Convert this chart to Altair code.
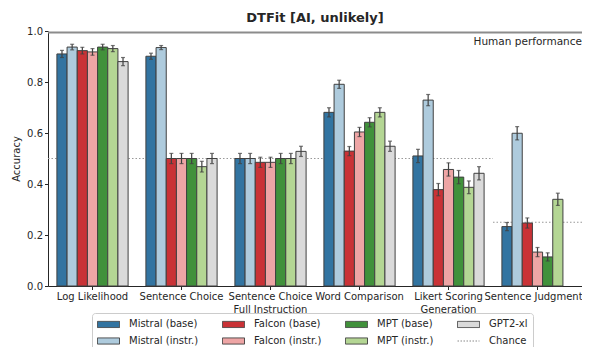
import altair as alt
import pandas as pd

categories = ["Log Likelihood", "Sentence Choice", "Sentence Choice\nFull Instruction",
              "Word Comparison", "Likert Scoring\nGeneration", "Sentence Judgment"]
models = ["Mistral (base)", "Mistral (instr.)", "Falcon (base)", "Falcon (instr.)",
          "MPT (base)", "MPT (instr.)", "GPT2-xl"]
colors = ["#3274a1", "#aecbdd", "#c93236", "#eea5a5", "#41913b", "#b4d694", "#dadada"]

acc = {
    "Mistral (base)":   [0.910, 0.901, 0.500, 0.681, 0.510, 0.233],
    "Mistral (instr.)": [0.937, 0.935, 0.500, 0.791, 0.729, 0.599],
    "Falcon (base)":    [0.923, 0.500, 0.485, 0.529, 0.378, 0.247],
    "Falcon (instr.)":  [0.918, 0.500, 0.485, 0.604, 0.457, 0.133],
    "MPT (base)":       [0.937, 0.500, 0.500, 0.642, 0.427, 0.114],
    "MPT (instr.)":     [0.931, 0.468, 0.500, 0.681, 0.387, 0.340],
    "GPT2-xl":          [0.880, 0.500, 0.528, 0.548, 0.442, None],
}
err = {
    "Mistral (base)":   [0.014, 0.012, 0.020, 0.018, 0.026, 0.016],
    "Mistral (instr.)": [0.011, 0.008, 0.020, 0.016, 0.022, 0.026],
    "Falcon (base)":    [0.013, 0.020, 0.020, 0.018, 0.024, 0.020],
    "Falcon (instr.)":  [0.013, 0.020, 0.020, 0.018, 0.026, 0.018],
    "MPT (base)":       [0.011, 0.020, 0.020, 0.018, 0.026, 0.016],
    "MPT (instr.)":     [0.012, 0.021, 0.020, 0.018, 0.025, 0.024],
    "GPT2-xl":          [0.016, 0.020, 0.020, 0.020, 0.026, None],
}
chance_start = ["Log Likelihood", "Sentence Judgment"]
chance_end = ["Likert Scoring\nGeneration", "Sentence Judgment"]
chance_level = [0.5, 0.25]
human_level = [0.994]

rows = []
for m in models:
    for c, a, e in zip(categories, acc[m], err[m]):
        if a is None:
            continue
        rows.append({"category": c, "model": m, "acc": a, "lo": a - e, "hi": a + e})
df = pd.DataFrame(rows)
chance_df = pd.DataFrame({
    "x0": [categories.index(s) for s in chance_start],
    "x1": [categories.index(e) + 1 for e in chance_end],
    "level": chance_level,
})
human_df = pd.DataFrame({"level": human_level, "label": ["Human performance"]})
legend_df = pd.DataFrame({"model": pd.Series([], dtype=str)})

FONT = "DejaVu Sans"
TXT = "#262626"
EDGE = "#404040"

xscale = alt.Scale(domain=categories, paddingInner=0.2, paddingOuter=0.1)
yscale = alt.Scale(domain=[0, 1], nice=False)
xoff = alt.XOffset("model:N", scale=alt.Scale(domain=models, paddingInner=0, paddingOuter=0))

legend_domain = ["Mistral (base)", "Falcon (base)", "MPT (base)", "GPT2-xl",
                 "Mistral (instr.)", "Falcon (instr.)", "MPT (instr.)", "Chance"]
cmap = dict(zip(models, colors))
fill_range = [cmap.get(k, "transparent") for k in legend_domain]
stroke_range = [EDGE if k in cmap else "#888888" for k in legend_domain]
RECT = "M-1,-0.56H3V0.56H-1Z"
LINE = "M-1,0H3"
shape_range = [RECT if k in cmap else LINE for k in legend_domain]
dash_range = [[1, 0] if k in cmap else [1.5, 1.5] for k in legend_domain]

xaxis = alt.Axis(title=None, labelAngle=0, labelExpr="split(datum.label, '\\n')",
                 labelLineHeight=13, tickSize=3.5, labelPadding=2,
                 labelOffset={"condition": {"test": "datum.value == 'Sentence Judgment'",
                                            "value": -4}, "value": 0})
yaxis = alt.Axis(title="Accuracy", values=[0, 0.2, 0.4, 0.6, 0.8, 1.0], format=".1f",
                 tickSize=3.5, labelPadding=2, titlePadding=5)

legend = alt.Legend(
    title=None, orient="none", legendX=44, legendY=282, columns=4,
    direction="horizontal", padding=5, strokeColor="#cccccc", cornerRadius=3,
    labelFont=FONT, labelFontSize=10, labelColor=TXT, labelOffset=20,
    columnPadding=21, rowPadding=5, symbolSize=121, symbolStrokeWidth=1,
)

fill_scale = alt.Scale(domain=legend_domain, range=fill_range)

bars = alt.Chart(df).mark_bar(stroke=EDGE, strokeWidth=1).encode(
    x=alt.X("category:N", scale=xscale, axis=xaxis),
    xOffset=xoff,
    y=alt.Y("acc:Q", scale=yscale, axis=yaxis),
    fill=alt.Fill("model:N", scale=fill_scale, legend=legend),
)

legend_layer = alt.Chart(legend_df).mark_point(size=121, strokeWidth=1, opacity=1).encode(
    fill=alt.Fill("model:N", scale=fill_scale, legend=legend),
    stroke=alt.Stroke("model:N", scale=alt.Scale(domain=legend_domain, range=stroke_range),
                      legend=legend),
    shape=alt.Shape("model:N", scale=alt.Scale(domain=legend_domain, range=shape_range),
                    legend=legend),
    strokeDash=alt.StrokeDash("model:N", scale=alt.Scale(domain=legend_domain, range=dash_range),
                              legend=legend),
)

ebar = alt.Chart(df).mark_rule(color=EDGE, strokeWidth=1.2).encode(
    x=alt.X("category:N", scale=xscale, axis=xaxis), xOffset=xoff,
    y=alt.Y("lo:Q", scale=yscale), y2="hi:Q",
)
cap_lo = alt.Chart(df).mark_tick(color=EDGE, size=4, thickness=1.2).encode(
    x=alt.X("category:N", scale=xscale, axis=xaxis), xOffset=xoff,
    y=alt.Y("lo:Q", scale=yscale),
)
cap_hi = alt.Chart(df).mark_tick(color=EDGE, size=4, thickness=1.2).encode(
    x=alt.X("category:N", scale=xscale, axis=xaxis), xOffset=xoff,
    y=alt.Y("hi:Q", scale=yscale),
)
main = alt.layer(bars, ebar, cap_lo, cap_hi, legend_layer)

chance = alt.Chart(chance_df).mark_rule(color="#999999", strokeWidth=1.2,
                                        strokeDash=[1.5, 2]).encode(
    x=alt.X("x0:Q", scale=alt.Scale(domain=[0, len(categories)], nice=False, zero=False),
            axis=None),
    x2="x1:Q",
    y=alt.Y("level:Q", scale=yscale),
)

human = alt.Chart(human_df).mark_rule(color="#8c8c8c", strokeWidth=2).encode(
    y=alt.Y("level:Q", scale=yscale),
)
human_txt = alt.Chart(human_df).mark_text(align="right", baseline="top", dy=4,
                                          font=FONT, fontSize=10.5, color=TXT).encode(
    x=alt.value({"expr": "width"}),
    y=alt.Y("level:Q", scale=yscale),
    text="label:N",
)

chart = alt.layer(chance, main, human, human_txt).resolve_scale(
    x="independent"
).properties(
    width=534, height=255,
    title=alt.Title("DTFit [AI, unlikely]", font=FONT, fontSize=13, fontWeight="bold",
                    color=TXT, offset=1, anchor="middle"),
    autosize=alt.AutoSizeParams(type="none"),
    padding={"left": 40, "top": 23, "right": 0, "bottom": 62},
).configure_axis(
    labelFont=FONT, titleFont=FONT, labelFontSize=10, titleFontSize=10,
    labelColor=TXT, titleColor=TXT, domainColor=TXT, tickColor=TXT, grid=False,
    titleFontWeight="normal",
).configure_view(stroke=None)

chart.save("out.html", embed_options={"renderer": "svg", "actions": False})
